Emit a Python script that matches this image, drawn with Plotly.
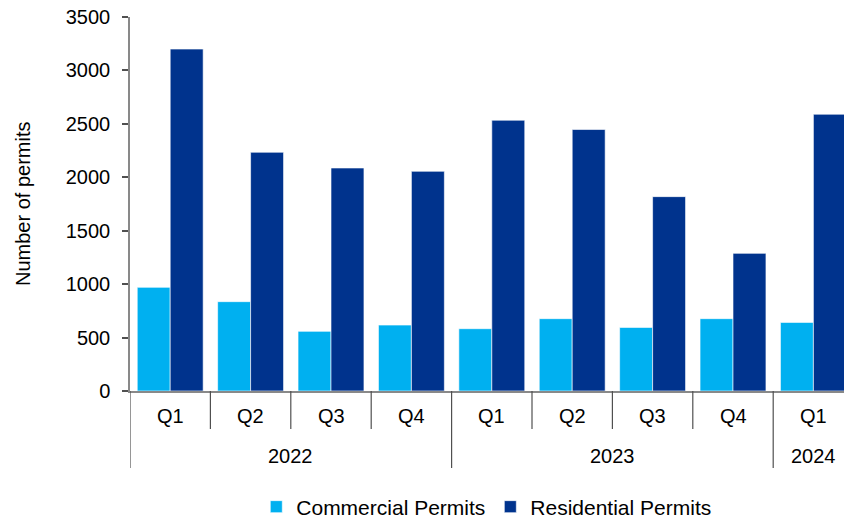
import plotly.graph_objects as go

# Quarterly permit counts
years = ["2022", "2022", "2022", "2022", "2023", "2023", "2023", "2023", "2024"]
quarters = ["Q1", "Q2", "Q3", "Q4", "Q1", "Q2", "Q3", "Q4", "Q1"]
commercial = [970, 836, 558, 617, 583, 677, 595, 677, 642]
residential = [3200, 2234, 2087, 2056, 2534, 2447, 1819, 1288, 2590]
y_ticks = [0, 500, 1000, 1500, 2000, 2500, 3000, 3500]

FONT = "Arial, Liberation Sans, sans-serif"
W, H = 844, 519
M_L, M_R, M_T, M_B = 130, 0, 17, 128
plot_h = H - M_T - M_B

idx = list(range(len(quarters)))

fig = go.Figure()
fig.add_trace(go.Bar(
    x=idx, y=commercial, name="Commercial Permits",
    marker=dict(color="#00B0F0", line=dict(color="rgba(255,255,255,0.6)", width=1)),
))
fig.add_trace(go.Bar(
    x=idx, y=residential, name="Residential Permits",
    marker=dict(color="#00338D", line=dict(color="rgba(255,255,255,0.6)", width=1)),
))


def px_to_paper(dy):
    """Convert a pixel offset below the x axis into paper units."""
    return -dy / plot_h


shapes = []
annotations = []

# Category separators: short ones between quarters, long ones between years
for i in range(len(quarters) + 1):
    b = i - 0.5
    new_year = i == 0 or i == len(quarters) or years[i] != years[i - 1]
    depth = 77 if new_year else 38
    shapes.append(dict(
        type="line", xref="x", yref="paper",
        x0=b, x1=b, y0=0, y1=px_to_paper(depth),
        line=dict(color="#505050", width=1.2),
    ))

# Quarter labels
for i, q in enumerate(quarters):
    annotations.append(dict(
        x=i, y=px_to_paper(25), xref="x", yref="paper", text=q,
        showarrow=False, xanchor="center", yanchor="middle",
        font=dict(family=FONT, size=20, color="#000000"),
    ))

# Year labels centred under their quarters
for yr in dict.fromkeys(years):
    pos = [i for i, y in enumerate(years) if y == yr]
    annotations.append(dict(
        x=sum(pos) / len(pos), y=px_to_paper(65), xref="x", yref="paper", text=yr,
        showarrow=False, xanchor="center", yanchor="middle",
        font=dict(family=FONT, size=20, color="#000000"),
    ))

# Y-axis title
annotations.append(dict(
    x=0, y=0.5, xref="paper", yref="paper", xshift=23 - M_L,
    text="Number of permits", textangle=-90, showarrow=False,
    xanchor="center", yanchor="middle",
    font=dict(family=FONT, size=20, color="#000000"),
))

fig.update_layout(
    width=W, height=H,
    margin=dict(l=M_L, r=M_R, t=M_T, b=M_B, pad=0, autoexpand=False),
    paper_bgcolor="white", plot_bgcolor="white",
    barmode="group", bargap=0.18, bargroupgap=0,
    font=dict(family=FONT, size=20, color="#000000"),
    shapes=shapes, annotations=annotations,
    legend=dict(
        orientation="h", x=0.499, xanchor="center",
        yref="container", y=(H - 507) / H, yanchor="middle",
        font=dict(family=FONT, size=21, color="#000000"),
        itemclick=False, bgcolor="rgba(0,0,0,0)",
    ),
    xaxis=dict(
        range=[-0.5, -0.5 + (W - M_L - M_R) / 80.4],
        showticklabels=False, ticks="", showgrid=False, zeroline=False,
        showline=True, linecolor="#898989", linewidth=1.5,
    ),
    yaxis=dict(
        range=[0, 3500], tickvals=y_ticks, ticktext=[str(v) for v in y_ticks],
        ticks="outside", ticklen=6, tickwidth=1.5, tickcolor="#505050",
        ticklabelstandoff=8,
        showgrid=False, zeroline=False,
        showline=True, linecolor="#898989", linewidth=1.5,
        tickfont=dict(family=FONT, size=20, color="#000000"),
    ),
)

fig.write_html("out.html")
